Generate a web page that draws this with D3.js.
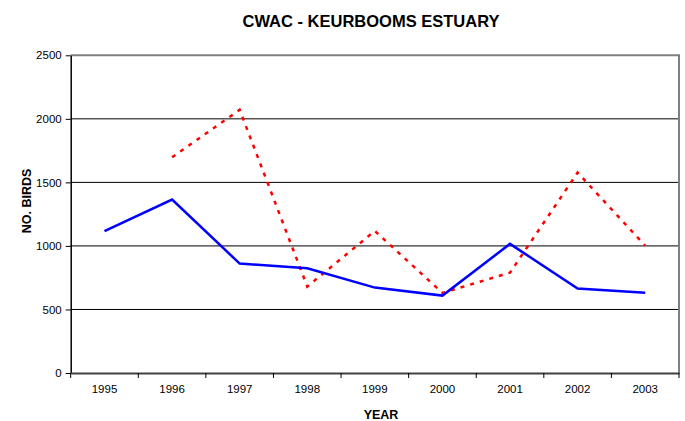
<!DOCTYPE html>
<html><head><meta charset="utf-8">
<script src="https://cdn.jsdelivr.net/npm/d3@7"></script>
<style>body{margin:0;background:#fff}svg{display:block;font-family:"Liberation Sans",Arial,sans-serif}</style>
</head><body><svg id="c" width="685" height="421"></svg>
<script>
const years = ["1995","1996","1997","1998","1999","2000","2001","2002","2003"];
const seriesBlue = [1116, 1365, 861, 824, 672, 609, 1016, 664, 632];
const seriesRed = [null, 1698, 2071, 680, 1118, 630, 790, 1577, 1002];
const yTicks = [0, 500, 1000, 1500, 2000, 2500];

const svg = d3.select("#c");
const L = 70.7, R = 679, T = 55.3, B = 373;
const x = d3.scaleBand().domain(years).range([L, R]);
const y = d3.scaleLinear().domain([0, 2500]).range([B, T]);

// gridlines
svg.append("g").selectAll("line").data(yTicks.filter(d => d > 0)).join("line")
  .attr("x1", L).attr("x2", R).attr("y1", d => y(d)).attr("y2", d => y(d))
  .attr("stroke", d => d === 2500 ? "#808080" : "#000").attr("stroke-width", d => d === 2500 ? 2 : 1);
// right border
svg.append("line").attr("x1", R).attr("x2", R).attr("y1", T - 1).attr("y2", B)
  .attr("stroke", "#808080").attr("stroke-width", 2);

// y axis
const ya = svg.append("g").attr("transform", `translate(${L},0)`)
  .call(d3.axisLeft(y).tickValues(yTicks).tickFormat(d3.format("d")).tickSize(5).tickSizeOuter(0).tickPadding(4));
ya.select(".domain").attr("stroke", "#000").attr("stroke-width", 1.5);
ya.selectAll("text").attr("font-size", 11.5).attr("fill", "#000").attr("font-family", "Liberation Sans, Arial, sans-serif");

// x axis
const xa = svg.append("g").attr("transform", `translate(0,${B})`)
  .call(d3.axisBottom(x).tickSize(0).tickPadding(12));
xa.select(".domain").attr("stroke", "#404040").attr("stroke-width", 2);
xa.selectAll("text").attr("font-size", 11.5).attr("fill", "#000").attr("font-family", "Liberation Sans, Arial, sans-serif");
// boundary ticks
xa.append("g").selectAll("line").data(d3.range(years.length + 1)).join("line")
  .attr("x1", i => L + i * x.step()).attr("x2", i => L + i * x.step())
  .attr("y1", 0).attr("y2", 5).attr("stroke", "#000").attr("stroke-width", 1);

const line = d3.line().defined(d => d.v !== null).x(d => x(d.k) + x.bandwidth() / 2).y(d => y(d.v));

svg.append("path").datum(years.map((k, i) => ({k, v: seriesRed[i]})))
  .attr("d", line).attr("fill", "none").attr("stroke", "#ff0000").attr("stroke-width", 2.5)
  .attr("stroke-dasharray", "4,6");
svg.append("path").datum(years.map((k, i) => ({k, v: seriesBlue[i]})))
  .attr("d", line).attr("fill", "none").attr("stroke", "#0000ff").attr("stroke-width", 2.5);

// titles
svg.append("text").attr("x", 371).attr("y", 27).attr("text-anchor", "middle")
  .attr("font-size", 16.5).attr("font-weight", "bold").text("CWAC - KEURBOOMS ESTUARY");
svg.append("text").attr("x", 381).attr("y", 419).attr("text-anchor", "middle")
  .attr("font-size", 12.5).attr("font-weight", "bold").text("YEAR");
svg.append("text").attr("transform", "translate(31,201) rotate(-90)").attr("text-anchor", "middle")
  .attr("font-size", 12.5).attr("font-weight", "bold").text("NO. BIRDS");
</script></body></html>
